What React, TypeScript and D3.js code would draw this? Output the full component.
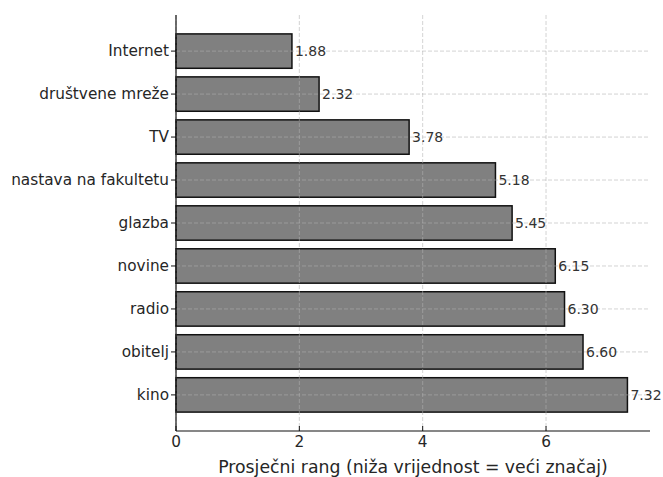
import React from "react";
import * as d3 from "d3";

const categories = ["Internet", "društvene mreže", "TV", "nastava na fakultetu", "glazba", "novine", "radio", "obitelj", "kino"];
const values = [1.88, 2.32, 3.78, 5.18, 5.45, 6.15, 6.30, 6.60, 7.32];
const xTicks = [0, 2, 4, 6];
const xLabel = "Prosječni rang (niža vrijednost = veći značaj)";

export default function App() {
  const W = 663, H = 477;
  const left = 176, right = 650, top = 15, bottom = 431;
  const x = d3.scaleLinear().domain([0, 7.32 * 1.05]).range([left, right]);
  const n = categories.length;
  const y = d3.scaleLinear().domain([-0.4 - 0.44, n - 1 + 0.4 + 0.44]).range([top, bottom]);
  const bh = y(0.4) - y(-0.4);
  const font = "DejaVu Sans, sans-serif";
  return (
    <svg width={W} height={H} style={{ position: "absolute", left: 0, top: 0, background: "#fff" }} fontFamily={font}>
      {categories.map((c, i) => (
        <rect key={c} x={x(0)} y={y(i) - bh / 2} width={x(values[i]) - x(0)} height={bh} fill="#808080" stroke="#111" strokeWidth={1.5} />
      ))}
      {xTicks.map(t => (
        <line key={"gx" + t} x1={x(t)} x2={x(t)} y1={top} y2={bottom} stroke="#b0b0b0" strokeOpacity={0.7} strokeDasharray="4,2" strokeWidth={0.8} />
      ))}
      {categories.map((c, i) => (
        <line key={"gy" + c} x1={left} x2={right} y1={y(i)} y2={y(i)} stroke="#b0b0b0" strokeOpacity={0.7} strokeDasharray="4,2" strokeWidth={0.8} />
      ))}
      {categories.map((c, i) => (
        <text key={"v" + c} x={x(values[i]) + 3} y={y(i)} dy="0.35em" fontSize={14} fill="#333">{values[i].toFixed(2)}</text>
      ))}
      <line x1={left} x2={left} y1={top} y2={bottom} stroke="#111" strokeWidth={1.2} />
      <line x1={left} x2={right} y1={bottom} y2={bottom} stroke="#111" strokeWidth={1.2} />
      {categories.map((c, i) => (
        <g key={"yt" + c}>
          <line x1={left - 5} x2={left} y1={y(i)} y2={y(i)} stroke="#111" strokeWidth={1} />
          <text x={left - 7} y={y(i)} dy="0.35em" textAnchor="end" fontSize={15.3} fill="#262626">{c}</text>
        </g>
      ))}
      {xTicks.map(t => (
        <g key={"xt" + t}>
          <line x1={x(t)} x2={x(t)} y1={bottom - 5} y2={bottom} stroke="#111" strokeWidth={1} />
          <text x={x(t)} y={bottom + 16} textAnchor="middle" fontSize={15.3} fill="#262626">{t}</text>
        </g>
      ))}
      <text x={(left + right) / 2} y={bottom + 42} textAnchor="middle" fontSize={17.3} fill="#262626">{xLabel}</text>
    </svg>
  );
}
